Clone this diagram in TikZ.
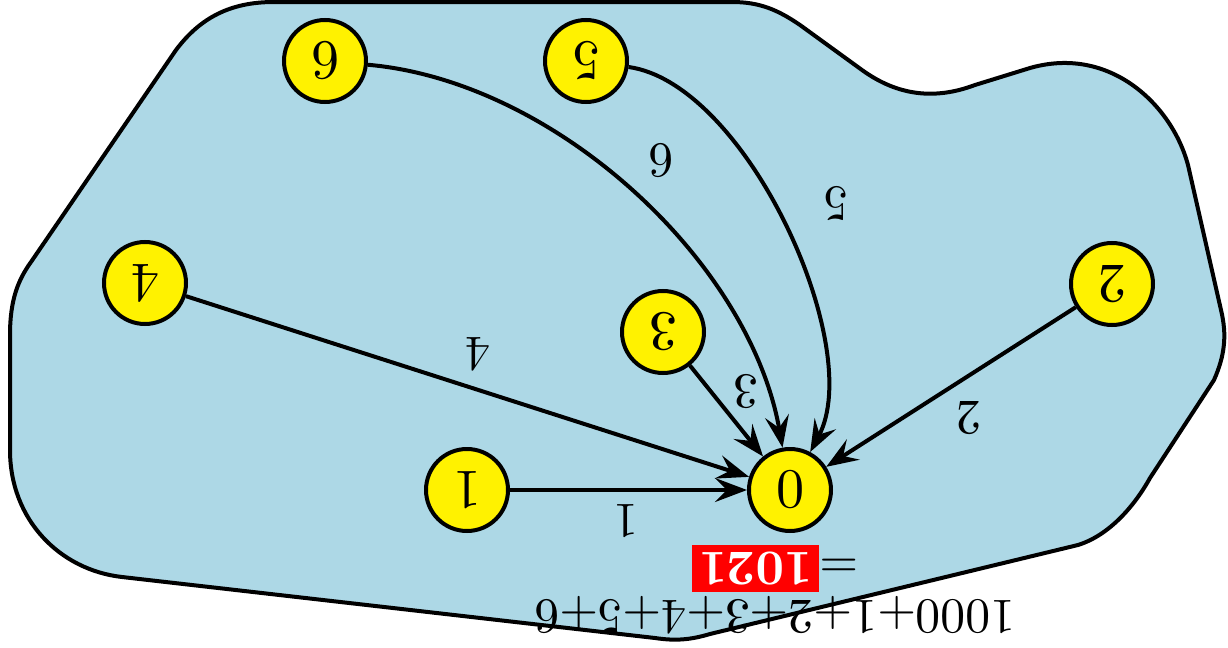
\documentclass[tikz,border=0pt]{standalone}
\usetikzlibrary{arrows.meta}
\definecolor{blobblue}{RGB}{173,216,230}
\newcommand{\scaledtext}[2]{\scalebox{#1}{\fontsize{10}{12}\selectfont #2}}
\begin{document}
\begin{tikzpicture}[x=0.5pt,y=0.5pt,
  vnode/.style={circle, draw=black, fill=yellow, line width=2pt, minimum size=41pt, inner sep=0pt, rotate=180},
  conn/.style={line width=2pt, -{Stealth[length=16pt,width=12pt,inset=6pt]}},
  elabel/.style={rotate=180, inner sep=0pt},
  sumtext/.style={rotate=180, inner sep=0pt}
]
\useasboundingbox (0,0) rectangle (1228,-648);
% blob
\draw[line width=2pt, fill=blobblue]
  (274,-2) -- (732,-2)
  .. controls (760,-2) and (778,-10) .. (800,-25)
  -- (862,-70)
  .. controls (898,-96) and (935,-100) .. (975,-85)
  -- (1030,-68)
  .. controls (1110,-45) and (1172,-105) .. (1188,-165)
  -- (1221,-310)
  .. controls (1227,-335) and (1225,-355) .. (1214,-380)
  -- (1150,-478)
  .. controls (1135,-505) and (1110,-535) .. (1078,-545)
  -- (710,-634)
  .. controls (690,-640) and (675,-641) .. (655,-638)
  -- (122,-577)
  .. controls (60,-570) and (10,-520) .. (10,-450)
  -- (10,-335)
  .. controls (10,-300) and (18,-280) .. (31,-262)
  -- (176,-50)
  .. controls (200,-18) and (230,-2) .. (274,-2)
  -- cycle;
% nodes
\node[vnode] (n0) at (790,-490) {\scaledtext{2.8}{0}};
\node[vnode] (n1) at (467,-490) {\scaledtext{2.8}{1}};
\node[vnode] (n2) at (1112,-284) {\scaledtext{2.8}{2}};
\node[vnode] (n3) at (663,-332) {\scaledtext{2.8}{3}};
\node[vnode] (n4) at (145,-283) {\scaledtext{2.8}{4}};
\node[vnode] (n5) at (586,-61) {\scaledtext{2.8}{5}};
\node[vnode] (n6) at (325,-61) {\scaledtext{2.8}{6}};
% connectors
\draw[conn] (n1) -- (n0);
\draw[conn] (n2) -- (n0);
\draw[conn] (n3) -- (n0);
\draw[conn] (n4) -- (n0);
\draw[conn] (n5) to[out=-8,in=62] (n0);
\draw[conn] (n6) to[out=-5,in=100] (n0);
% edge labels
\node[elabel] (l1) at (626,-521) {\scaledtext{2.488}{1}};
\node[elabel] (l2) at (969,-418) {\scaledtext{2.488}{2}};
\node[elabel] (l3) at (746,-392) {\scaledtext{2.488}{3}};
\node[elabel] (l4) at (478,-354) {\scaledtext{2.488}{4}};
\node[elabel] (l5) at (836,-204) {\scaledtext{2.488}{5}};
\node[elabel] (l6) at (661,-161) {\scaledtext{2.488}{6}};
% sum text
\node[sumtext] (sum1) at (775,-615) {\scaledtext{2.488}{1000+1+2+3+4+5+6}};
\node[sumtext] (sum2) at (775,-568.5) {\scaledtext{2.488}{$=$\setlength{\fboxsep}{1.3pt}\colorbox{red}{\textcolor{white}{\bfseries 1021}}}};
\end{tikzpicture}
\end{document}
